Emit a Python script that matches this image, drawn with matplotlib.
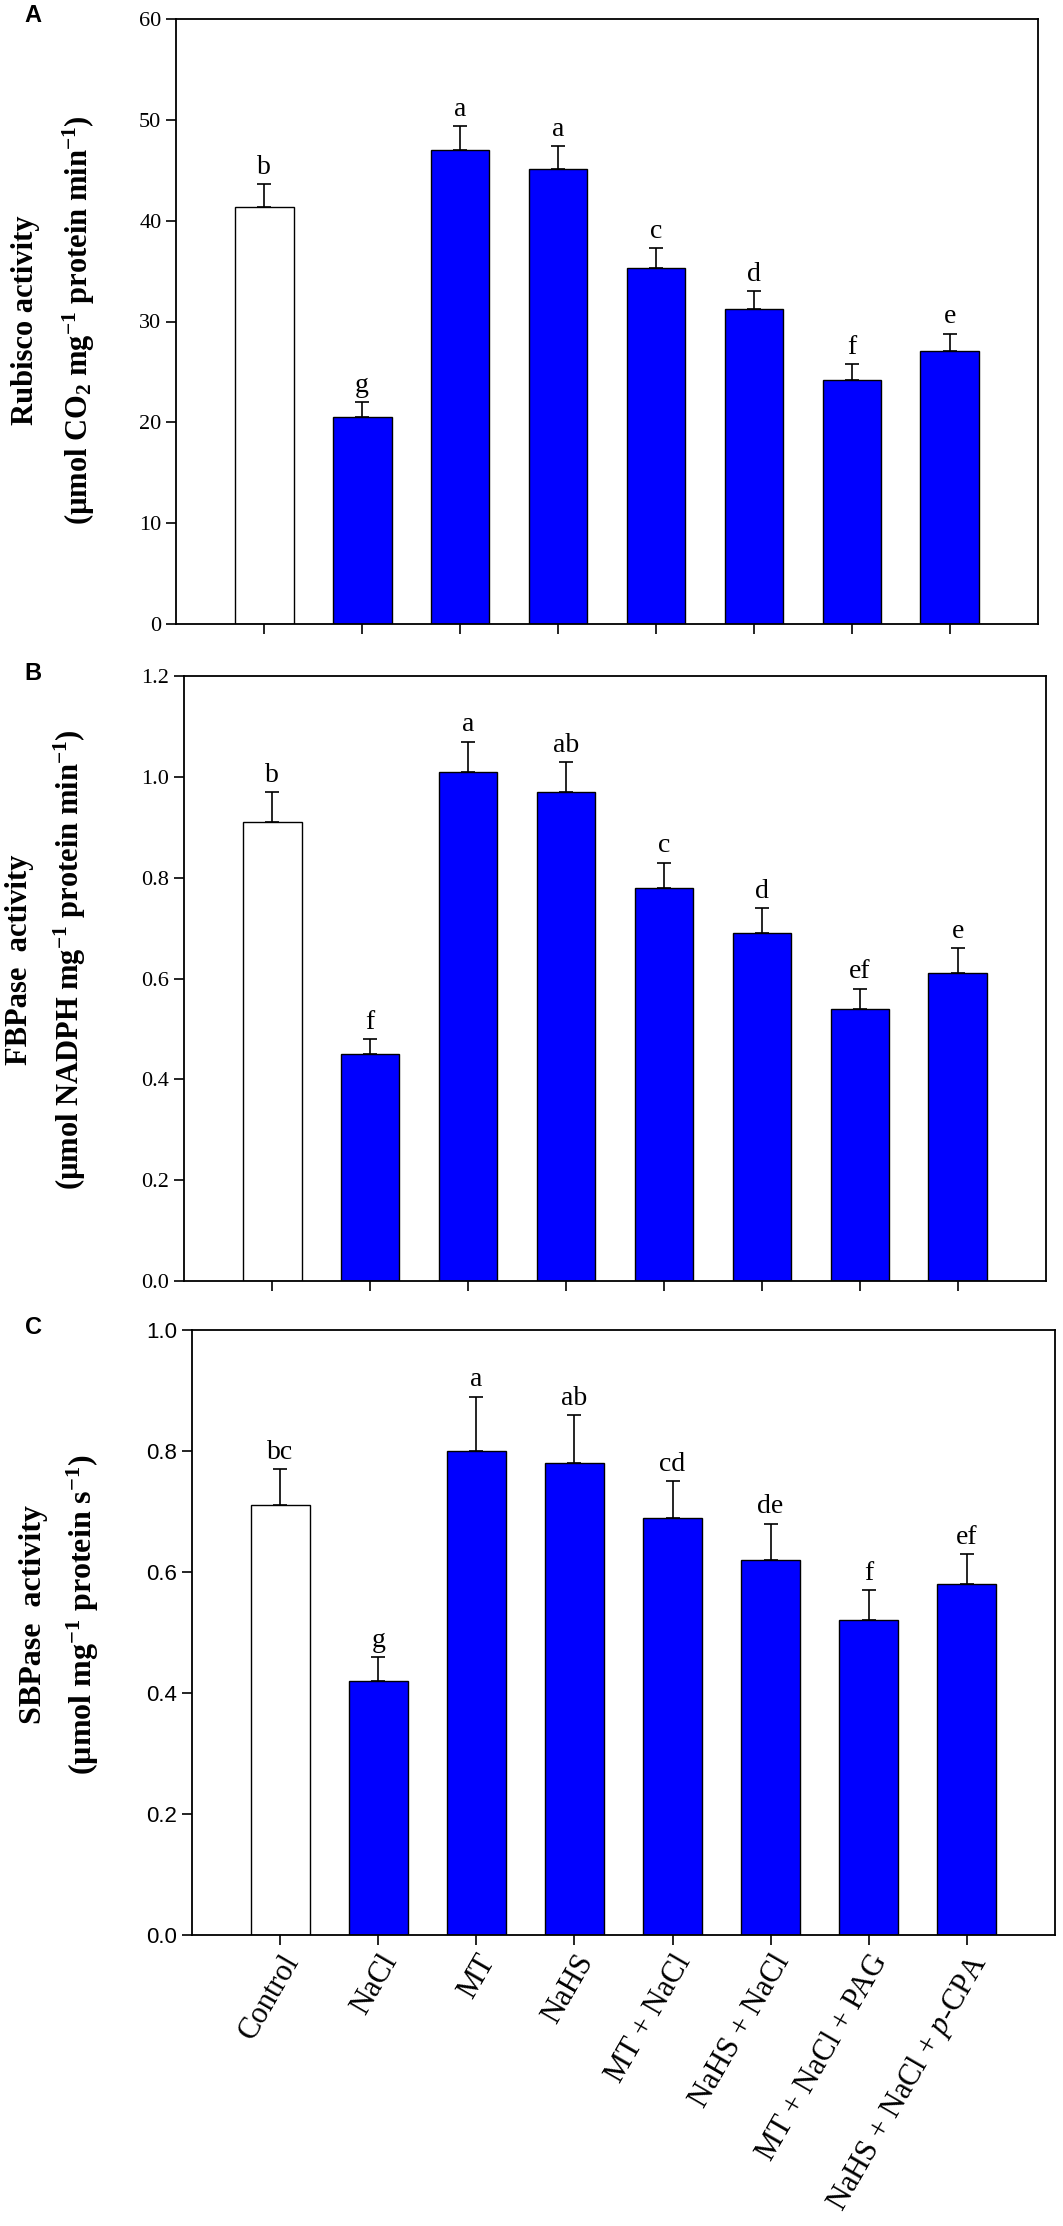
import matplotlib
matplotlib.use("Agg")
import matplotlib.pyplot as plt
import numpy as np

plt.rcParams['font.family'] = 'Liberation Serif'
plt.rcParams['mathtext.fontset'] = 'custom'
plt.rcParams['mathtext.rm'] = 'Liberation Serif'
plt.rcParams['mathtext.it'] = 'Liberation Serif:italic'
plt.rcParams['mathtext.bf'] = 'Liberation Serif:bold'

treatments = ["Control", "NaCl", "MT", "NaHS", "MT + NaCl", "NaHS + NaCl",
              "MT + NaCl + PAG", "NaHS + NaCl + $\\it{p}$-CPA"]
bar_colors = ["white", "#0000ff", "#0000ff", "#0000ff", "#0000ff", "#0000ff", "#0000ff", "#0000ff"]

rubisco = [41.4, 20.5, 47.0, 45.1, 35.3, 31.2, 24.2, 27.1]
rubisco_err = [2.2, 1.5, 2.4, 2.3, 2.0, 1.8, 1.6, 1.7]
rubisco_letters = ["b", "g", "a", "a", "c", "d", "f", "e"]

fbpase = [0.91, 0.45, 1.01, 0.97, 0.78, 0.69, 0.54, 0.61]
fbpase_err = [0.06, 0.03, 0.06, 0.06, 0.05, 0.05, 0.04, 0.05]
fbpase_letters = ["b", "f", "a", "ab", "c", "d", "ef", "e"]

sbpase = [0.71, 0.42, 0.80, 0.78, 0.69, 0.62, 0.52, 0.58]
sbpase_err = [0.06, 0.04, 0.09, 0.08, 0.06, 0.06, 0.05, 0.05]
sbpase_letters = ["bc", "g", "a", "ab", "cd", "de", "f", "ef"]

W, H = 1063, 2226
fig = plt.figure(figsize=(W / 100, H / 100), dpi=100)


def px_axes(left, top, right, bottom):
    return fig.add_axes([left / W, 1 - bottom / H, (right - left) / W, (bottom - top) / H])


def draw_panel(ax, vals, errs, letters, ylim, yticks, yfmt, tickfont):
    x = np.arange(len(vals))
    ax.bar(x, vals, width=0.6, color=bar_colors, edgecolor="black", linewidth=1.0, zorder=2)
    ax.errorbar(x, vals, yerr=[np.zeros(len(errs)), errs], fmt="none", ecolor="black",
                elinewidth=1.2, capsize=5, capthick=1.2, zorder=3)
    for xi, v, e, lab in zip(x, vals, errs, letters):
        ax.annotate(lab, (xi, v + e), xytext=(0, 3), textcoords="offset points",
                    ha="center", va="bottom", fontsize=20, family="Liberation Serif")
    ax.set_xlim(-0.9, 7.9)
    ax.set_ylim(*ylim)
    ax.set_yticks(yticks)
    ax.set_yticklabels([yfmt.format(t) for t in yticks], family=tickfont, fontsize=16)
    ax.set_xticks(x)
    ax.tick_params(direction="out", length=7, width=1.2)
    for s in ax.spines.values():
        s.set_linewidth(1.3)


axA = px_axes(176, 19, 1038, 624)
draw_panel(axA, rubisco, rubisco_err, rubisco_letters, (0, 60), [0, 10, 20, 30, 40, 50, 60],
           "{:.0f}", "Liberation Serif")
axA.set_xticklabels([])

axB = px_axes(184, 676, 1046, 1281)
draw_panel(axB, fbpase, fbpase_err, fbpase_letters, (0, 1.2), [0, 0.2, 0.4, 0.6, 0.8, 1.0, 1.2],
           "{:.1f}", "Liberation Serif")
axB.set_xticklabels([])

axC = px_axes(192, 1330, 1055, 1935)
draw_panel(axC, sbpase, sbpase_err, sbpase_letters, (0, 1.0), [0, 0.2, 0.4, 0.6, 0.8, 1.0],
           "{:.1f}", "Liberation Sans")
axC.set_xticklabels(treatments, rotation=60, ha="right", rotation_mode="anchor",
                    fontsize=22, family="Liberation Serif")


def ylab(xpx, ycenter, text, size):
    fig.text(xpx / W, 1 - ycenter / H, text, rotation=90, ha="center", va="center",
             fontsize=size, fontweight="bold", family="Liberation Serif")


ylab(26, 320, "Rubisco activity", 22)
ylab(79, 320, "(µmol CO$_{\\mathbf{2}}$ mg$^{\\mathbf{-1}}$ protein min$^{\\mathbf{-1}}$)", 22)
ylab(20, 960, "FBPase  activity", 22)
ylab(70, 960, "(µmol NADPH mg$^{\\mathbf{-1}}$ protein min$^{\\mathbf{-1}}$)", 22)
ylab(34, 1615, "SBPase  activity", 23)
ylab(83, 1615, "(µmol mg$^{\\mathbf{-1}}$ protein s$^{\\mathbf{-1}}$)", 23)

for lab, ypx in [("A", 15), ("B", 673), ("C", 1328)]:
    fig.text(33 / W, 1 - ypx / H, lab, ha="center", va="center", fontsize=17,
             fontweight="bold", family="Liberation Sans")

fig.savefig("out.png", dpi=100)
